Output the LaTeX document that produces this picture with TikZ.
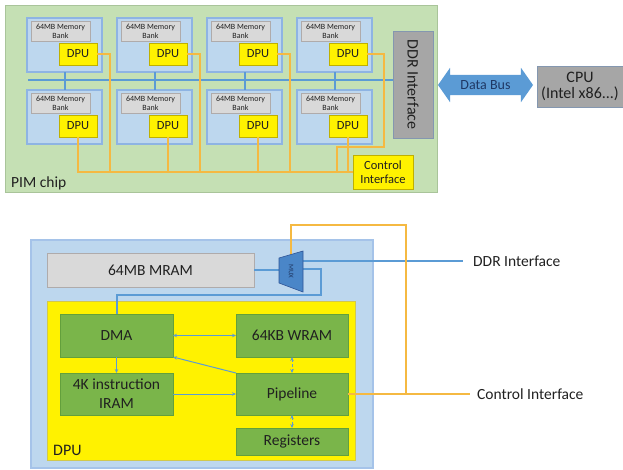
\documentclass[tikz,border=0pt]{standalone}
\usepackage{fontspec}
\setmainfont{Carlito}
\usetikzlibrary{arrows.meta,shapes.arrows}
\definecolor{chipfill}{HTML}{C5E0B4}
\definecolor{chipline}{HTML}{A9C49A}
\definecolor{bankfill}{HTML}{BDD7EE}
\definecolor{bankline}{HTML}{8EB4E3}
\definecolor{memfill}{HTML}{D9D9D9}
\definecolor{memline}{HTML}{AFABAB}
\definecolor{dpuline}{HTML}{BFB000}
\definecolor{busblue}{HTML}{5B9BD5}
\definecolor{ctlorange}{HTML}{F5B942}
\definecolor{ifgray}{HTML}{A6A6A6}
\definecolor{ifline}{HTML}{8497B0}
\definecolor{unitgreen}{HTML}{7AB54A}
\definecolor{unitline}{HTML}{63A03C}
\definecolor{muxblue}{HTML}{4A86C8}
\definecolor{muxline}{HTML}{2F5597}
\definecolor{navy}{HTML}{1F3864}
\definecolor{txt}{HTML}{202020}
\begin{document}
\begin{tikzpicture}[x=1pt,y=-1pt,
  blk/.style={draw,anchor=north west,inner sep=1pt,outer sep=0pt,align=center,text=txt},
  chip/.style={blk,fill=chipfill,draw=chipline,line width=1pt},
  bank/.style={blk,fill=bankfill,draw=bankline,line width=1.2pt},
  mem/.style={blk,fill=memfill,draw=memline,line width=.6pt,font=\fontsize{8}{9}\selectfont},
  dpu/.style={blk,fill=yellow,draw=dpuline,line width=.6pt,font=\fontsize{12.5}{14}\selectfont},
  ifbox/.style={blk,fill=ifgray,draw=ifline,line width=1pt},
  unit/.style={blk,fill=unitgreen,draw=unitline,line width=.8pt,font=\fontsize{15.5}{19}\selectfont},
  lbl/.style={anchor=west,inner sep=0pt,text=txt,font=\fontsize{15.5}{18}\selectfont},
  bus/.style={draw=busblue,line width=2pt},
  ctl/.style={draw=ctlorange,line width=2.8pt},
  arr/.style={draw=busblue,line width=1pt,>={Stealth[length=4pt,width=3.5pt]}}]

\useasboundingbox (0,0) rectangle (623,469);

\node[chip,minimum width=432,minimum height=187] (pim) at (5,5) {};
\node[lbl,anchor=south west] at (11,190) {PIM chip};

\foreach \c in {1,...,4}{
  \foreach \r/\y in {t/18,b/90}{
    \node[bank,minimum width=75,minimum height=54] (bank-\r\c) at ({27+90*(\c-1)},\y) {};
    \node[mem,minimum width=59,minimum height=20] (mem-\r\c) at ([xshift=4pt,yshift=-3pt]bank-\r\c.north west) {64MB Memory\\Bank};
    \node[dpu,minimum width=38,minimum height=22] (dpu-\r\c) at ([xshift=32pt,yshift=-25pt]bank-\r\c.north west) {DPU};
  }
}

\node[ifbox,minimum width=40,minimum height=107] (ddr) at (393,31) {};
\node[rotate=-90,text=txt,font=\fontsize{16}{18}\selectfont] at (ddr.center) {DDR Interface};
\node[dpu,minimum width=60,minimum height=34] (ci) at (353,155) {Control\\Interface};

\coordinate (busL) at (28,80);
\draw[bus] (busL) -- (busL -| ddr.west);
\foreach \c in {1,...,4}
  \draw[bus] (bank-t\c) -- (bank-b\c);

\foreach \c in {1,2,3}
  \draw[ctl] (dpu-t\c.east) -- ++(13,0) |- (ci.west);
\draw[ctl] (dpu-t4.east) -- ++(17,0) -- ++(0,93) -- ++(-47,0) |- (ci.west);
\foreach \c in {1,...,4}
  \draw[ctl] (dpu-b\c.south) |- (ci.west);

\node[double arrow,fill=busblue,double arrow head extend=7pt,double arrow tip angle=110,
  minimum height=95,inner xsep=0pt,inner ysep=5.5pt,text=navy,
  font=\fontsize{14}{16}\selectfont] (dbus) at (485.5,85) {Data Bus};
\node[ifbox,minimum width=86,minimum height=41,font=\fontsize{16}{16}\selectfont] (cpu) at (537,66) {CPU\\(Intel x86...)};

\node[blk,fill=bankfill,draw=bankline!80,line width=1.2pt,minimum width=342,minimum height=228] (dpubig) at (31,240) {};
\node[blk,fill=memfill,draw=memline,line width=1pt,minimum width=207,minimum height=34,font=\fontsize{15.5}{18}\selectfont] (mram) at (47,253) {64MB MRAM};
\node[blk,fill=yellow,draw=dpuline!70,line width=1pt,minimum width=308,minimum height=159] (core) at (47,301) {};
\node[lbl,anchor=south west,font=\fontsize{16}{18}\selectfont] at ([xshift=6pt,yshift=4pt]core.south west) {DPU};

\node[unit,minimum width=113,minimum height=43] (dma) at (60,314) {DMA};
\node[unit,minimum width=112,minimum height=43] (wram) at (236,314) {64KB WRAM};
\node[unit,minimum width=113,minimum height=42] (iram) at (60,373) {4K instruction\\IRAM};
\node[unit,minimum width=112,minimum height=42] (pipe) at (236,373) {Pipeline};
\node[unit,minimum width=112,minimum height=27] (regs) at (236,428) {Registers};

\draw[arr,<->] (dma) -- (wram);
\draw[arr,->] (dma) -- (iram);
\draw[arr,->] (iram) -- (pipe);
\draw[arr,->] (pipe.north west) -- (dma.south east);
\draw[arr,<->,densely dashed] (wram) -- (pipe);
\draw[arr,<->,densely dashed] (pipe) -- (regs);

\coordinate (muxin) at (279,270);
\coordinate (muxout) at (303,261);
\coordinate (muxloop) at (303,269);
\coordinate (muxtop) at (291,254.5);
\coordinate (tap) at (406,394);
\node[lbl,inner xsep=10pt] (ddrlbl) at (463,261) {DDR Interface};
\node[lbl,inner xsep=7pt] (ctllbl) at (470,394) {Control Interface};

\draw[bus] (mram) -- (muxin);
\draw[bus] (muxout) -- (ddrlbl.west);
\draw[bus] (muxloop) -| ++(18,26) -| (dma.north);
\draw[ctl] (pipe) -- (ctllbl.west);
\draw[ctl] (tap) -- (406,225) -| (muxtop);
\filldraw[fill=muxblue,draw=muxline,line width=.6pt] (279,258) -- (303,251) -- (303,292) -- (279,283) -- cycle;
\node[rotate=-90,inner sep=0pt,text=navy,font=\fontsize{7}{8}\selectfont] (mux) at (291,271.5) {MUX};
\end{tikzpicture}
\end{document}
